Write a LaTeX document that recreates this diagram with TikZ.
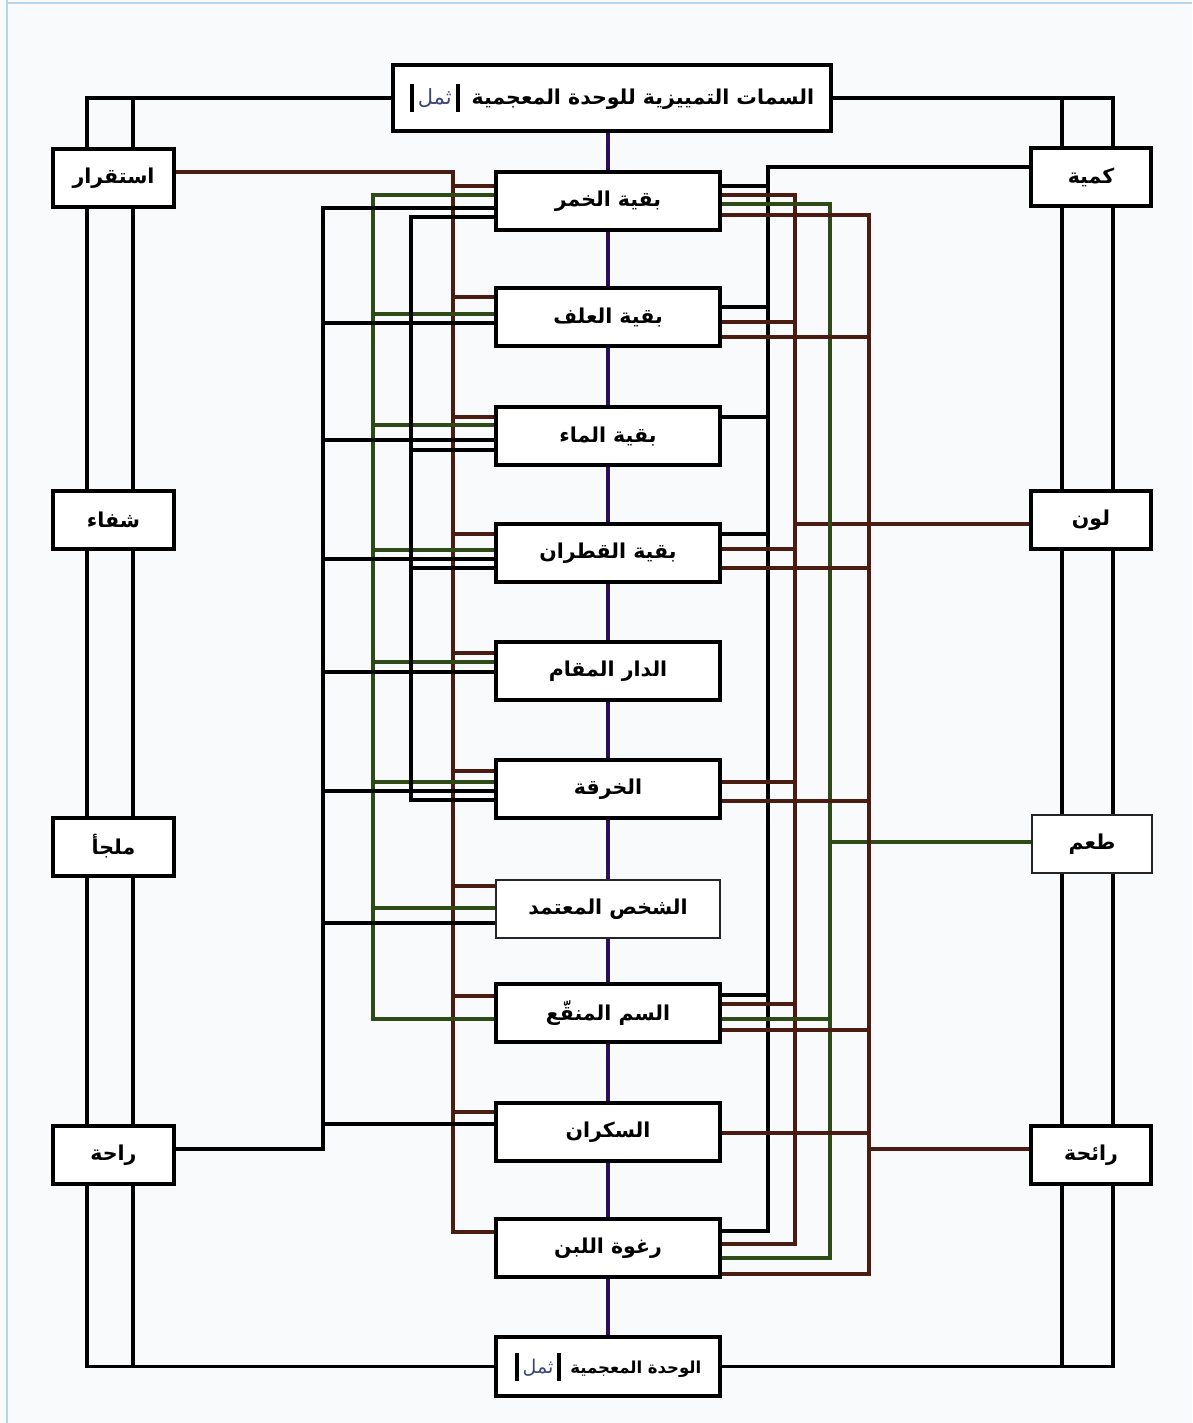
\documentclass[tikz,border=0pt]{standalone}
\usepackage{fontspec}
\newfontfamily\arfont[Script=Arabic]{DejaVu Sans}
\TeXXeTstate=1
\usetikzlibrary{calc}
\definecolor{cbrown}{RGB}{74,28,18}
\definecolor{cgreen}{RGB}{46,74,22}
\definecolor{cpurple}{RGB}{42,16,92}
\definecolor{cbg}{RGB}{248,250,252}
\definecolor{cedge}{RGB}{184,212,234}
\definecolor{cmark}{RGB}{60,70,120}
\pgfdeclarelayer{bg}
\pgfsetlayers{bg,main}
\newcommand\mylstub[4]{\path ([yshift=-#3pt]#2.north west) coordinate (tmpL); \draw[#1] (tmpL) -- (#4 |- tmpL);}
\newcommand\myrstub[4]{\path ([yshift=-#3pt]#2.north east) coordinate (tmpR); \draw[#1] (tmpR) -- (#4 |- tmpR);}
\newcommand\mymark[1]{\rule[-7pt]{4pt}{28pt}\hspace{4pt}{\color{cmark}\mdseries\fontsize{#1}{24}\selectfont\beginR ثمل\endR}\hspace{4pt}\rule[-7pt]{4pt}{28pt}}
\tikzset{
  box/.style={draw=black, line width=4pt, fill=white, inner sep=0pt, outer sep=0pt,
    font=\arfont\bfseries\fontsize{20.5}{24}\selectfont},
  cbox/.style={box, minimum width=224pt, minimum height=58pt},
  sbox/.style={box, minimum width=120pt, minimum height=58pt},
  tbox/.style={box, minimum width=438pt, minimum height=66pt},
  thinbox/.style={line width=1.5pt, draw=black!85},
  lk/.style={line width=3.8pt, draw=black},
  lb/.style={line width=3.4pt, draw=cbrown},
  lg/.style={line width=3.4pt, draw=cgreen},
  lp/.style={line width=3.4pt, draw=cpurple},
}
\begin{document}
\begin{tikzpicture}[x=1pt,y=-1pt]
\useasboundingbox (0,0) rectangle (1192,1423);
% ---------- nodes ----------
\node[tbox] (top) at (612,98) {\mymark{21}\hspace{12pt}\beginR السمات التمييزية للوحدة المعجمية\endR};
\node[cbox] (b1) at (608,201) {\beginR بقية الخمر\endR};
\node[cbox] (b2) at (608,317) {\beginR بقية العلف\endR};
\node[cbox] (b3) at (608,436) {\beginR بقية الماء\endR};
\node[cbox] (b4) at (608,553) {\beginR بقية القطران\endR};
\node[cbox] (b5) at (608,671) {\beginR الدار المقام\endR};
\node[cbox] (b6) at (608,789) {\beginR الخرقة\endR};
\node[cbox,thinbox] (b7) at (608,909) {\beginR الشخص المعتمد\endR};
\node[cbox] (b8) at (608,1013) {\beginR السم المنقّع\endR};
\node[cbox] (b9) at (608,1132) {\beginR السكران\endR};
\node[cbox] (b10) at (608,1248) {\beginR رغوة اللبن\endR};
\node[cbox,minimum height=59pt,font=\arfont\bfseries\fontsize{16.5}{20}\selectfont] (bot) at (608,1366.5) {\mymark{19}\hspace{9pt}\beginR الوحدة المعجمية\endR};
\node[sbox,minimum width=121pt] (ist) at (113.5,178) {\beginR استقرار\endR};
\node[sbox,minimum width=121pt] (shifa) at (113.5,520) {\beginR شفاء\endR};
\node[sbox,minimum width=121pt] (malja) at (113.5,846.5) {\beginR ملجأ\endR};
\node[sbox,minimum width=121pt] (raha) at (113.5,1155) {\beginR راحة\endR};
\node[sbox] (kam) at (1091,177) {\beginR كمية\endR};
\node[sbox] (lon) at (1091,520) {\beginR لون\endR};
\node[sbox,thinbox] (taam) at (1092,844) {\beginR طعم\endR};
\node[sbox] (raiha) at (1091,1155) {\beginR رائحة\endR};
% ---------- lines (behind) ----------
\begin{pgfonlayer}{bg}
\fill[cbg] (0,0) rectangle (1192,1423);
\draw[cedge, line width=2pt] (7,0) -- (7,1423);
\draw[cedge, line width=1.5pt] (7,3) -- (1192,3);
% bus x positions
\coordinate (xLk) at (323,0);
\coordinate (xLg) at (373,0);
\coordinate (xLk2) at (411,0);
\coordinate (xLb) at (453,0);
\coordinate (xRk) at (768,0);
\coordinate (xRb) at (795,0);
\coordinate (xRg) at (830,0);
\coordinate (xRb2) at (869,0);
% outer frame
\coordinate (fL1) at (87,0);
\coordinate (fL2) at (133,0);
\coordinate (fR1) at (1062,0);
\coordinate (fR2) at (1113,0);
\draw[lk] (top.west) -| (fL1 |- bot.west) -- (bot.west);
\draw[lk] (fL2 |- top.west) -- (fL2 |- bot.west);
\draw[lk] (top.east) -| (fR2 |- bot.east) -- (bot.east);
\draw[lk] (fR1 |- top.east) -- (fR1 |- bot.east);
% central spine
\draw[lp] (top.south -| b1.north) -- (bot.north -| b1.north);
% ---- left brown bus (x=453) ----
\path ([yshift=-13pt]b10.north west) coordinate (pL10b);
\draw[lb] ([yshift=6pt]ist.east) -| (xLb |- pL10b) -- (pL10b);
\mylstub{lb}{b1}{14}{xLb}
\mylstub{lb}{b2}{9}{xLb}
\mylstub{lb}{b3}{10}{xLb}
\mylstub{lb}{b4}{10}{xLb}
\mylstub{lb}{b5}{11}{xLb}
\mylstub{lb}{b6}{11}{xLb}
\mylstub{lb}{b7}{6}{xLb}
\mylstub{lb}{b8}{12}{xLb}
\mylstub{lb}{b9}{9}{xLb}
% ---- left green bus (x=373) ----
\path ([yshift=-23pt]b1.north west) coordinate (pL1g);
\path ([yshift=-35pt]b8.north west) coordinate (pL8g);
\draw[lg] (pL1g) -| (xLg |- pL8g) -- (pL8g);
\mylstub{lg}{b2}{26}{xLg}
\mylstub{lg}{b3}{18}{xLg}
\mylstub{lg}{b4}{26}{xLg}
\mylstub{lg}{b5}{20}{xLg}
\mylstub{lg}{b6}{22}{xLg}
\mylstub{lg}{b7}{28}{xLg}
% ---- left black bus (x=323) ----
\path ([yshift=-36pt]b1.north west) coordinate (pL1k);
\draw[lk] ([yshift=6pt]raha.east) -| (xLk |- pL1k) -- (pL1k);
\mylstub{lk}{b2}{35}{xLk}
\mylstub{lk}{b3}{33}{xLk}
\mylstub{lk}{b4}{35}{xLk}
\mylstub{lk}{b5}{30}{xLk}
\mylstub{lk}{b6}{31}{xLk}
\mylstub{lk}{b7}{43}{xLk}
\mylstub{lk}{b9}{21}{xLk}
% ---- left black bus (x=411) ----
\path ([yshift=-45pt]b1.north west) coordinate (pL1k2);
\path ([yshift=-40pt]b6.north west) coordinate (pL6k2);
\draw[lk] (pL1k2) -| (xLk2 |- pL6k2) -- (pL6k2);
\mylstub{lk}{b3}{43}{xLk2}
\mylstub{lk}{b4}{44}{xLk2}
% ---- right black bus (x=768) ----
\path ([yshift=-12pt]b10.north east) coordinate (pR10k);
\draw[lk] ([yshift=10pt]kam.west) -| (xRk |- pR10k) -- (pR10k);
\myrstub{lk}{b1}{14}{xRk}
\myrstub{lk}{b2}{19}{xRk}
\myrstub{lk}{b3}{10}{xRk}
\myrstub{lk}{b4}{10}{xRk}
\myrstub{lk}{b8}{11}{xRk}
% ---- right brown bus (x=795) ----
\path ([yshift=-23pt]b1.north east) coordinate (pR1b);
\path ([yshift=-25pt]b10.north east) coordinate (pR10b);
\draw[lb] (pR1b) -| (xRb |- pR10b) -- (pR10b);
\myrstub{lb}{b2}{34}{xRb}
\myrstub{lb}{b4}{25}{xRb}
\myrstub{lb}{b6}{22}{xRb}
\myrstub{lb}{b8}{20}{xRb}
\path ([yshift=-4pt]lon.west) coordinate (pLon);
\draw[lb] (pLon) -- (xRb |- pLon);
% ---- right green bus (x=830) ----
\path ([yshift=-32pt]b1.north east) coordinate (pR1g);
\path ([yshift=-39pt]b10.north east) coordinate (pR10g);
\draw[lg] (pR1g) -| (xRg |- pR10g) -- (pR10g);
\myrstub{lg}{b8}{35}{xRg}
\path ([yshift=2pt]taam.west) coordinate (pTaam);
\draw[lg] (pTaam) -- (xRg |- pTaam);
% ---- right brown bus (x=869) ----
\path ([yshift=-43pt]b1.north east) coordinate (pR1b2);
\path ([yshift=-55pt]b10.north east) coordinate (pR10b2);
\draw[lb] (pR1b2) -| (xRb2 |- pR10b2) -- (pR10b2);
\myrstub{lb}{b2}{49}{xRb2}
\myrstub{lb}{b4}{44}{xRb2}
\myrstub{lb}{b6}{41}{xRb2}
\myrstub{lb}{b8}{46}{xRb2}
\myrstub{lb}{b9}{30}{xRb2}
\path ([yshift=6pt]raiha.west) coordinate (pRaiha);
\draw[lb] (pRaiha) -- (xRb2 |- pRaiha);
\end{pgfonlayer}
\end{tikzpicture}
\end{document}
